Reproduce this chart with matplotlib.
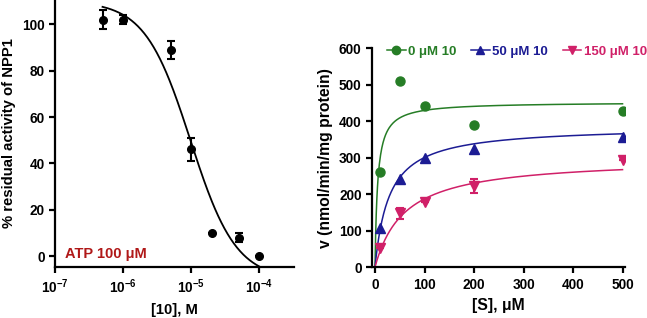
import matplotlib
matplotlib.use("Agg")
import matplotlib.pyplot as plt
import numpy as np

plt.rcParams['font.family'] = ['Liberation Sans', 'DejaVu Sans']
plt.rcParams['font.weight'] = 'bold'
plt.rcParams['mathtext.fontset'] = 'custom'
plt.rcParams['mathtext.rm'] = 'Liberation Sans:bold'
plt.rcParams['mathtext.bf'] = 'Liberation Sans:bold'
plt.rcParams['mathtext.it'] = 'Liberation Sans:bold'

# left panel: inhibition curve
conc = [5e-7, 1e-6, 5e-6, 1e-5, 2e-5, 5e-5, 1e-4]
resid = [102, 102, 89, 46, 10, 8, 0]
resid_err = [4, 2, 4, 5, 0, 2, 0]
fit_top, fit_bottom, fit_ic50, fit_hill = 110, -10, 9.8e-6, 1.3

# right panel: Michaelis-Menten
subs = [10, 50, 100, 200, 500]
v_0 = [260, 510, 442, 390, 428]
v_50 = [108, 240, 298, 323, 355]
v_150 = [52, 148, 178, 222, 293]
err_150 = [0, 15, 0, 18, 0]
vmax = [452, 386, 299]
km = [5.3, 28.6, 60]
labels = ['0 \u03bcM 10', '50 \u03bcM 10', '150 \u03bcM 10']
colors = ['#267d26', '#1c1c94', '#d02068']
markers = ['o', '^', 'v']

fig = plt.figure(figsize=(6.47, 3.18), dpi=100)

ax1 = fig.add_axes([0.085, 0.16, 0.369, 0.84])
xs = np.logspace(np.log10(5e-7), -4, 200)
ys = fit_bottom + (fit_top - fit_bottom) / (1 + (xs / fit_ic50) ** fit_hill)
ax1.plot(xs, ys, color='black', lw=1.3)
ax1.errorbar(conc, resid, yerr=resid_err, fmt='o', color='black', ms=5.5,
             capsize=3, elinewidth=1.5, capthick=1.5)
ax1.set_xscale('log')
ax1.set_xlim(1e-7, 10 ** -3.49)
ax1.set_ylim(-4.75, 110.5)
ax1.set_xticks([1e-7, 1e-6, 1e-5, 1e-4])
ax1.set_xticklabels([r'$10^{-7}$', r'$10^{-6}$', r'$10^{-5}$', r'$10^{-4}$'])
ax1.minorticks_off()
ax1.set_yticks([0, 20, 40, 60, 80, 100])
ax1.set_xlabel('[10], M', fontsize=10.7, fontweight='bold', labelpad=5)
ax1.set_ylabel('% residual activity of NPP1', fontsize=10.7, fontweight='bold')
ax1.text(0.04, 0.035, 'ATP 100 \u03bcM', transform=ax1.transAxes, color='#b01818',
         fontsize=10.5, fontweight='bold')

ax2 = fig.add_axes([0.575, 0.16, 0.391, 0.689])
sx = np.linspace(0, 500, 400)
for i in range(3):
    vals = [v_0, v_50, v_150][i]
    ax2.plot(sx, vmax[i] * sx / (km[i] + sx), color=colors[i], lw=1.1)
    if i == 2:
        ax2.errorbar(subs, vals, yerr=err_150, fmt=markers[i], color=colors[i],
                     ms=6.5, capsize=3, elinewidth=1.5, capthick=1.5)
    else:
        ax2.plot(subs, vals, markers[i], color=colors[i], ms=6.5)
ax2.set_xlim(-6, 505)
ax2.set_ylim(0, 600)
ax2.set_xticks([0, 100, 200, 300, 400, 500])
ax2.set_yticks([0, 100, 200, 300, 400, 500, 600])
ax2.set_xlabel('[S], \u03bcM', fontsize=11.3, fontweight='bold', labelpad=5)
ax2.set_ylabel('v (nmol/min/mg protein)', fontsize=11.3, fontweight='bold')

handles = [plt.Line2D([], [], color=colors[i], marker=markers[i], ms=6, lw=1.1)
           for i in range(3)]
leg = ax2.legend(handles, labels, ncol=3, loc='lower left', bbox_to_anchor=(0.06, 0.955),
                 frameon=False, fontsize=9.5, handlelength=1.4, handletextpad=0.2,
                 columnspacing=1.1, borderaxespad=0, borderpad=0)
for t, c in zip(leg.get_texts(), colors):
    t.set_color(c)
    t.set_fontweight('bold')

for ax in (ax1, ax2):
    ax.spines['top'].set_visible(False)
    ax.spines['right'].set_visible(False)
    ax.spines['left'].set_linewidth(1.6)
    ax.spines['bottom'].set_linewidth(1.6)
    ax.tick_params(width=1.6, length=4, labelsize=9.8)
    for lab in ax.get_xticklabels() + ax.get_yticklabels():
        lab.set_fontweight('bold')

fig.savefig('out.png', dpi=100)
